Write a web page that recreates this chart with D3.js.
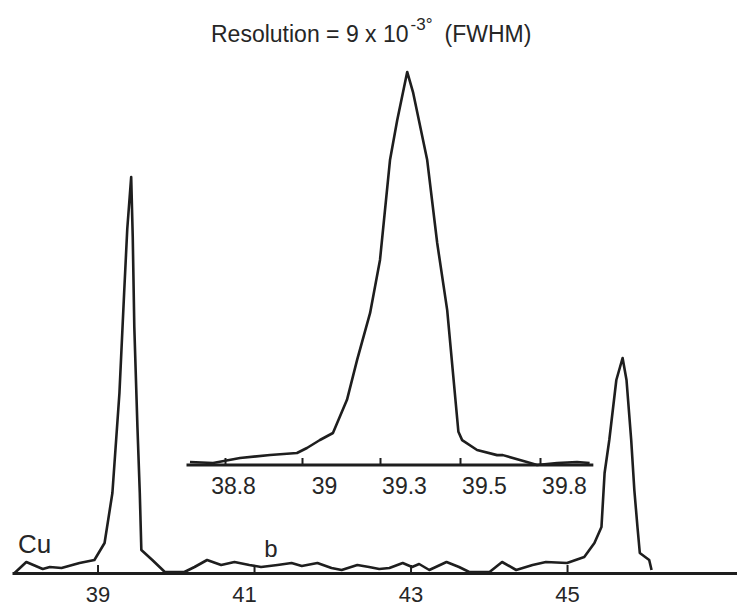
<!DOCTYPE html>
<html>
    <head>
        <meta charset="utf-8">
        <script src="https://cdn.jsdelivr.net/npm/d3@7"></script>
        <style>
            body { margin: 0; background: white; }
            text { font-family: "Liberation Sans", Arial, sans-serif; fill: #262626; }
        </style>
        <script>
            // main scan: 2-theta (deg) vs intensity (% of tallest peak)
            var mainX = [37.94, 38.09, 38.30, 38.39, 38.54, 38.77, 38.96, 39.09, 39.19, 39.28, 39.34, 39.38, 39.43,
                         39.45, 39.47, 39.51, 39.54, 39.56, 39.70, 39.86, 40.11, 40.24, 40.40, 40.58, 40.75, 40.94,
                         41.09, 41.30, 41.48, 41.61, 41.81, 41.99, 42.12, 42.32, 42.47, 42.60, 42.73, 42.90, 43.02,
                         43.11, 43.24, 43.46, 43.62, 43.75, 44.01, 44.17, 44.35, 44.56, 44.73, 45.00, 45.22, 45.35,
                         45.44, 45.48, 45.54, 45.63, 45.71, 45.76, 45.82, 45.86, 45.90, 45.93, 46.05, 46.08];
            var mainY = [0, 2.75, 1, 1.5, 1.25, 2.5, 3.25, 7.5, 20, 45, 70, 86, 99,
                         84, 61.5, 36.5, 20, 5.75, 3.25, 0.25, 0.25, 1.5, 3.25, 2, 2.75, 2,
                         1.5, 2, 2.5, 1.75, 2.5, 1.25, 0.75, 2, 1.5, 1, 1.25, 2.5, 1.5,
                         2.25, 0.75, 2.75, 1.5, 0.25, 0.25, 2.75, 0.75, 2, 2.75, 2.5, 4, 7.5,
                         11.5, 25, 33.25, 48.25, 53.75, 48.25, 33.25, 20.75, 11.5, 5, 3.25, 0.75];
            var mainTicks = [39, 41, 43, 45];

            // inset: close-up of the first peak
            var insetX = [38.709, 38.769, 38.839, 38.917, 38.987, 39.019, 39.069, 39.119, 39.173, 39.212, 39.262,
                          39.300, 39.325, 39.343, 39.368, 39.383, 39.418, 39.443, 39.468, 39.496, 39.508, 39.564,
                          39.639, 39.661, 39.751, 39.789, 39.864, 39.939, 39.986];
            var insetY = [0.76, 0.5, 1.77, 2.53, 3.04, 4.3, 6.33, 8.1, 16.5, 26.6, 38.5,
                          51.9, 77.2, 87.3, 99.5, 94.2, 77.2, 56.2, 39.2, 8.4, 6.3, 3.8,
                          2.5, 2.5, 0.76, 0, 0.5, 0.76, 0.5];
            var insetTicks = [38.8, 39, 39.3, 39.5, 39.8];
            var insetExtent = [38.7, 40.0];

            function makeSVG() {
                var svg = d3.select("#fig");

                // title, with a raised exponent
                var title = svg.append("text")
                               .attr("x", 211).attr("y", 42)
                               .attr("font-size", "23px");
                title.append("tspan").text("Resolution = 9 x 10");
                title.append("tspan").attr("dx", 2).attr("dy", -12)
                     .attr("font-size", "17px").text("-3°");
                title.append("tspan").attr("dx", 12).attr("dy", 12)
                     .text("(FWHM)");

                // ---- main plot
                var scX = d3.scaleLinear().domain([37.907, 47.172]).range([12, 737]);
                var scY = d3.scaleLinear().domain([0, 100]).range([573, 173]);
                var mainLabelShift = [0, -10, 0, 0];

                var ax = svg.append("g")
                            .attr("transform", "translate(0," + scY(0) + ")")
                            .call(d3.axisBottom(scX).tickValues(mainTicks).tickFormat(d3.format("d"))
                                    .tickSize(-8).tickSizeOuter(0).tickPadding(13));
                ax.select(".domain").attr("stroke", "#1e1e1e").attr("stroke-width", 3);
                ax.selectAll(".tick line").attr("stroke", "#1e1e1e").attr("stroke-width", 2);
                ax.selectAll(".tick text")
                  .attr("font-size", "22px")
                  .attr("font-family", "Liberation Sans, Arial, sans-serif")
                  .attr("fill", "#262626")
                  .attr("dx", (d, i) => mainLabelShift[i]);

                var lineMain = d3.line()
                                 .x((d, i) => scX(mainX[i]))
                                 .y((d, i) => scY(mainY[i]));
                svg.append("path")
                   .attr("d", lineMain(mainX))
                   .attr("fill", "none")
                   .attr("stroke", "#1e1e1e")
                   .attr("stroke-width", 2.6)
                   .attr("stroke-linejoin", "round");

                svg.append("text").attr("x", 18).attr("y", 553)
                   .attr("font-size", "26px").text("Cu");
                svg.append("text").attr("x", 271).attr("y", 557)
                   .attr("font-size", "24px").attr("text-anchor", "middle").text("b");

                // ---- inset
                var inX = d3.scaleLinear().domain(insetTicks).range([225, 302, 380, 460, 540]);
                var inY = d3.scaleLinear().domain([0, 100]).range([465, 70]);
                var insetLabelShift = [8, 22, 24, 24, 24];

                var ix = svg.append("g")
                            .attr("transform", "translate(0," + inY(0) + ")")
                            .call(d3.axisBottom(inX).tickValues(insetTicks).tickFormat(d => d)
                                    .tickSize(-7).tickSizeOuter(0).tickPadding(13));
                ix.select(".domain").remove();
                ix.append("line")
                  .attr("x1", inX(insetExtent[0])).attr("x2", inX(insetExtent[1]))
                  .attr("stroke", "#1e1e1e").attr("stroke-width", 3);
                ix.selectAll(".tick line").attr("stroke", "#1e1e1e").attr("stroke-width", 2);
                ix.selectAll(".tick text")
                  .attr("font-size", "23px")
                  .attr("font-family", "Liberation Sans, Arial, sans-serif")
                  .attr("fill", "#262626")
                  .attr("dx", (d, i) => insetLabelShift[i]);

                var lineIn = d3.line()
                               .x((d, i) => inX(insetX[i]))
                               .y((d, i) => inY(insetY[i]));
                svg.append("path")
                   .attr("d", lineIn(insetX))
                   .attr("fill", "none")
                   .attr("stroke", "#1e1e1e")
                   .attr("stroke-width", 2.6)
                   .attr("stroke-linejoin", "round");
            }
        </script>
    </head>
    <body onload="makeSVG()">
        <svg id="fig" width="737" height="608"></svg>
    </body>
</html>
